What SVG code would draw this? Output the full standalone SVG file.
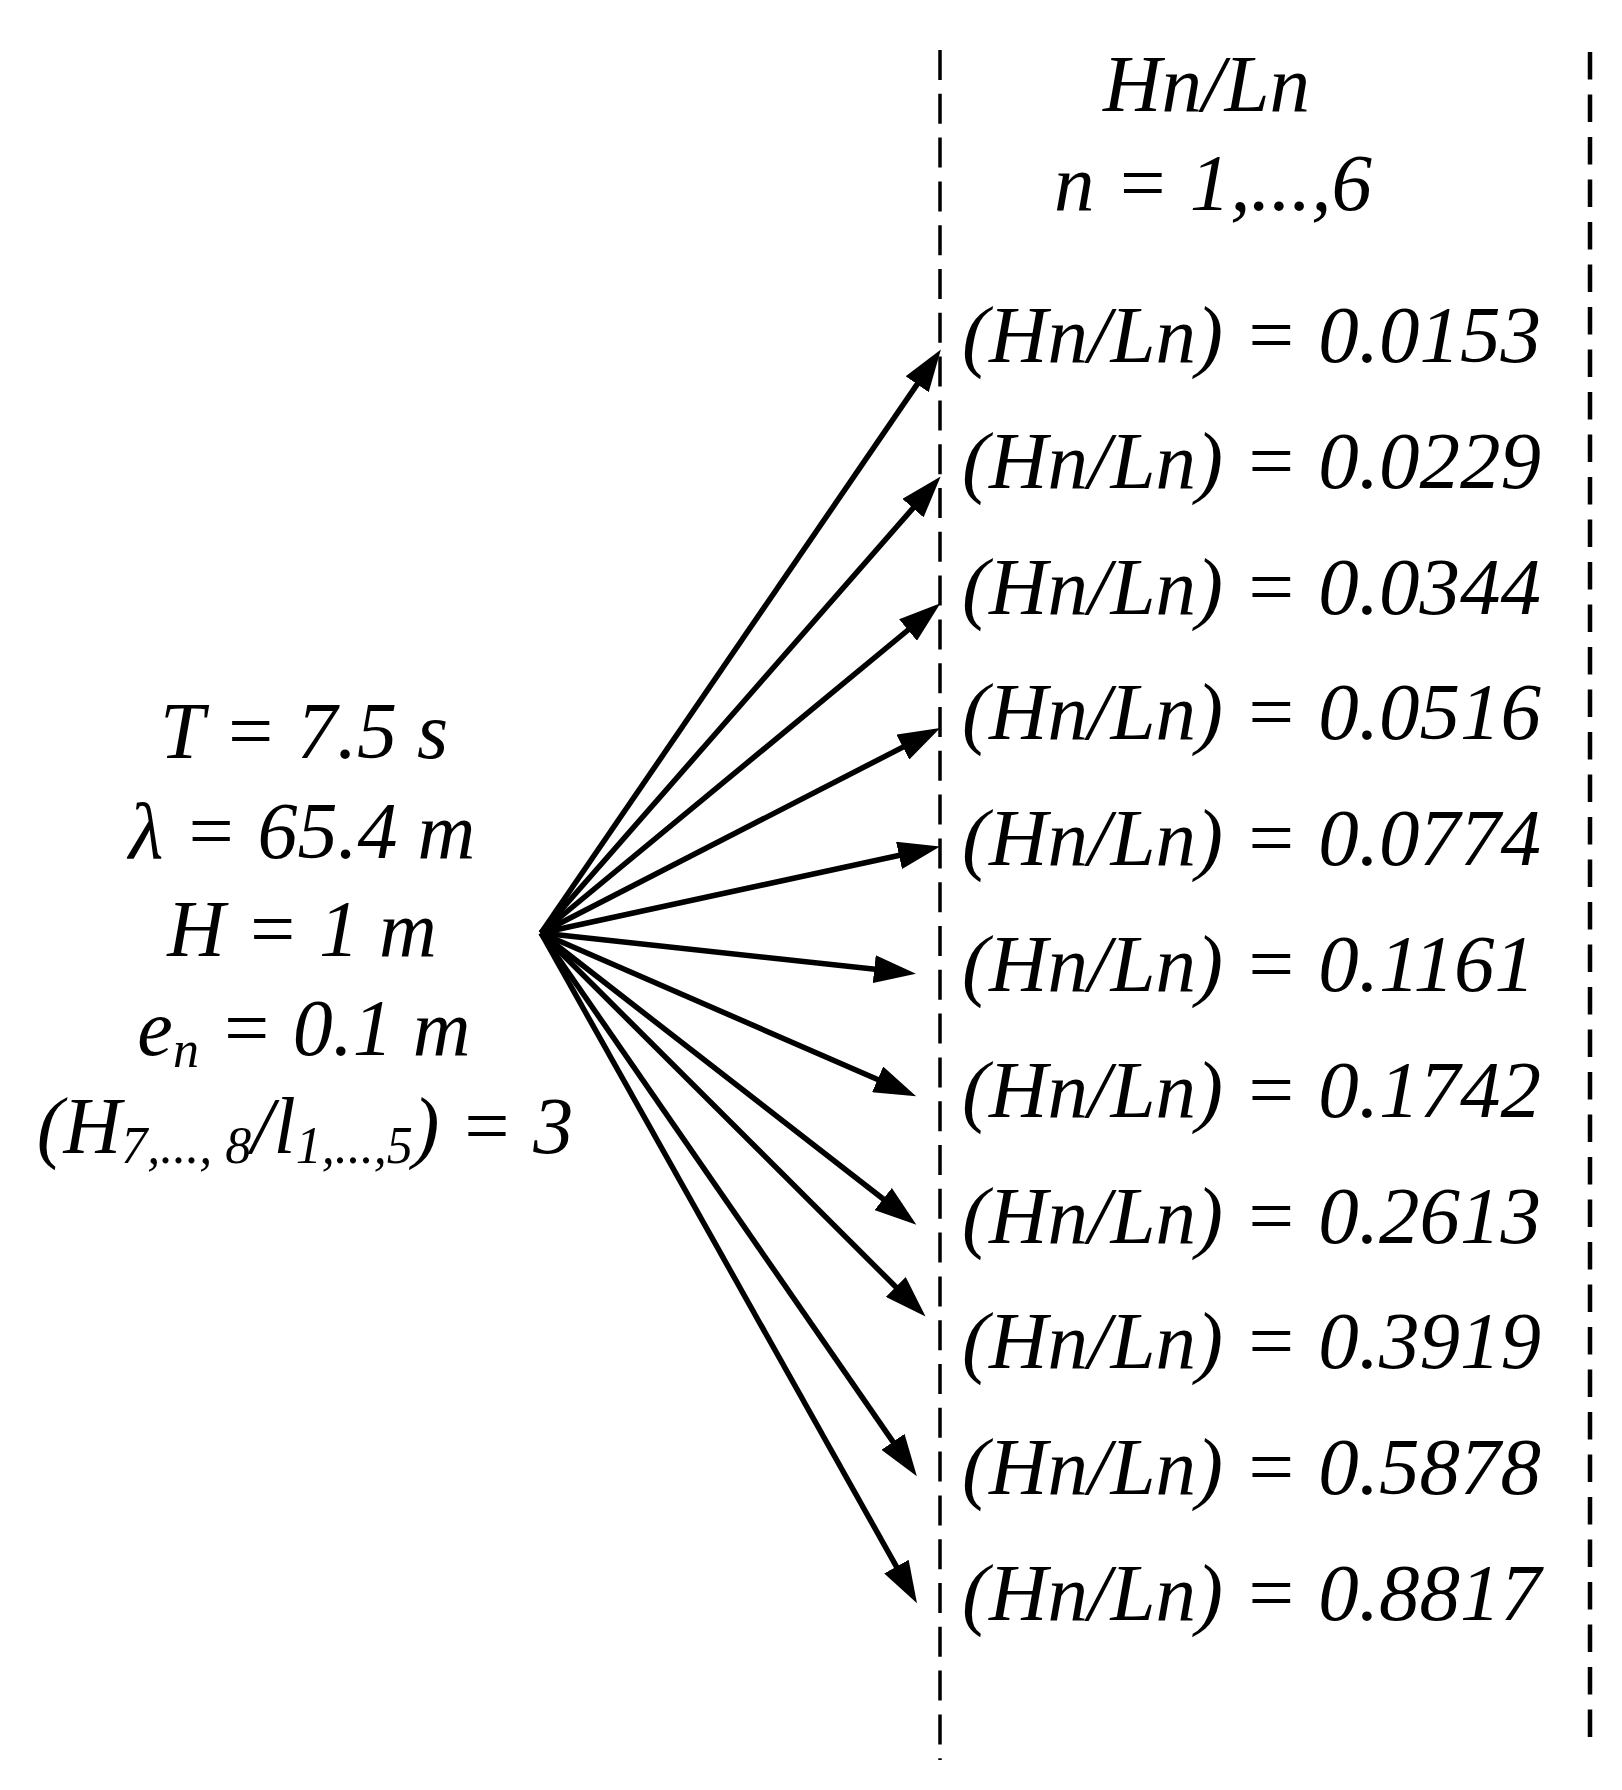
<svg xmlns="http://www.w3.org/2000/svg" width="1622" height="1790" viewBox="0 0 1622 1790">
<style>
.t{font-family:"Liberation Serif","Times New Roman",serif;font-style:italic;fill:#000;}
.lt{font-size:80px;text-anchor:middle;}
.rl{font-size:81px;}
.sub{font-size:52px;}
.ar{stroke:#000;stroke-width:5.5;fill:none;marker-end:url(#ah);}
.dl{stroke:#000;fill:none;}
</style>
<defs>
<marker id="ah" markerUnits="userSpaceOnUse" markerWidth="42" markerHeight="28" refX="22" refY="14" orient="auto" viewBox="0 0 42 28">
<path d="M0,0 L42,14 L0,28 z" fill="#000"/>
</marker>
</defs>
<rect width="1622" height="1790" fill="#fff"/>
<g id="dividers">
<line class="dl" x1="940" y1="50" x2="940" y2="1760" stroke-width="3.5" stroke-dasharray="30 13.8"/>
<line class="dl" x1="1590" y1="52" x2="1590" y2="1743" stroke-width="4.5" stroke-dasharray="27.5 15"/>
</g>
<g id="params">
<text class="t lt" x="304" y="758">T = 7.5 s</text>
<text class="t lt" x="302" y="858">λ = 65.4 m</text>
<text class="t lt" x="302" y="956">H = 1 m</text>
<text class="t lt" x="304" y="1055">e<tspan class="sub" dy="12">n</tspan><tspan dy="-12"> = 0.1 m</tspan></text>
<text class="t lt" x="305" y="1153">(H<tspan class="sub" dy="10">7,..., 8</tspan><tspan dy="-10">/l</tspan><tspan class="sub" dy="10">1,...,5</tspan><tspan dy="-10">) = 3</tspan></text>
</g>
<g id="header">
<text class="t rl" x="1103" y="111">Hn/Ln</text>
<text class="t rl" x="1054" y="210">n = 1,...,6</text>
</g>
<g id="labels">
<text class="t rl" x="962" y="362">(Hn/Ln) = 0.0153</text>
<text class="t rl" x="962" y="487.8">(Hn/Ln) = 0.0229</text>
<text class="t rl" x="962" y="613.6">(Hn/Ln) = 0.0344</text>
<text class="t rl" x="962" y="739.4">(Hn/Ln) = 0.0516</text>
<text class="t rl" x="962" y="865.2">(Hn/Ln) = 0.0774</text>
<text class="t rl" x="962" y="991">(Hn/Ln) = 0.1161</text>
<text class="t rl" x="962" y="1116.8">(Hn/Ln) = 0.1742</text>
<text class="t rl" x="962" y="1242.6">(Hn/Ln) = 0.2613</text>
<text class="t rl" x="962" y="1368.4">(Hn/Ln) = 0.3919</text>
<text class="t rl" x="962" y="1494.2">(Hn/Ln) = 0.5878</text>
<text class="t rl" x="962" y="1620">(Hn/Ln) = 0.8817</text>
</g>
<g id="connectors">
<line class="ar" x1="541" y1="933" x2="929.6" y2="366.1"/>
<line class="ar" x1="541" y1="933" x2="927.5" y2="491.6"/>
<line class="ar" x1="541" y1="933" x2="925.0" y2="616.0"/>
<line class="ar" x1="541" y1="933" x2="922.4" y2="737.1"/>
<line class="ar" x1="541" y1="933" x2="920.5" y2="850.7"/>
<line class="ar" x1="541" y1="933" x2="896.1" y2="971.6"/>
<line class="ar" x1="541" y1="933" x2="897.8" y2="1088.2"/>
<line class="ar" x1="541" y1="933" x2="900.6" y2="1212.5"/>
<line class="ar" x1="541" y1="933" x2="911.4" y2="1302.5"/>
<line class="ar" x1="541" y1="933" x2="905.5" y2="1459.9"/>
<line class="ar" x1="541" y1="933" x2="907.2" y2="1585.8"/>
</g>
</svg>
